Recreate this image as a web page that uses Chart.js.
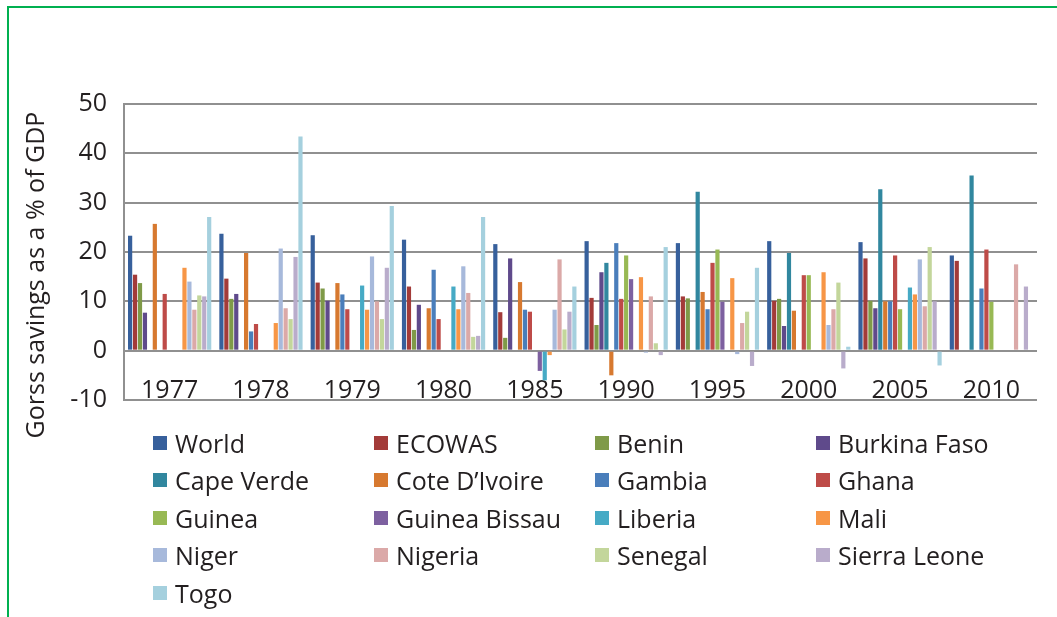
<!DOCTYPE html>
<html lang="en">

<head>
    <meta charset="UTF-8">
    <title>Gross savings as a % of GDP</title>
    <style>
        body {
            margin: 0;
            background: #fff;
            overflow: hidden;
            font-family: "Open Sans", sans-serif;
        }

        #frame {
            position: absolute;
            left: 7px;
            top: 6px;
            width: 1200px;
            height: 800px;
            border-left: 2.5px solid #00b050;
            border-top: 2.5px solid #00b050;
        }

        #wrap {
            position: absolute;
            left: 0;
            top: 0;
            width: 1057px;
            height: 617px;
        }

        #legend {
            position: absolute;
            left: 153px;
            top: 424px;
            display: grid;
            grid-template-columns: repeat(4, 221px);
            grid-auto-rows: 37.5px;
            font-size: 25px;
            color: #231f20;
        }

        #legend div {
            display: flex;
            align-items: center;
            white-space: nowrap;
        }

        #legend span {
            display: inline-block;
            width: 14px;
            height: 14px;
            margin-right: 8px;
        }
    </style>
</head>

<body>
    <div id="frame"></div>
    <div id="wrap">
        <canvas id="myChart"></canvas>
    </div>
    <div id="legend"></div>

    <script src="https://cdn.jsdelivr.net/npm/chart.js"></script>

    <script>
        // datos
        const years = ['1977', '1978', '1979', '1980', '1985', '1990', '1995', '2000', '2005', '2010']
        const countries = ['World', 'ECOWAS', 'Benin', 'Burkina Faso', 'Cape Verde', 'Cote D\u2019Ivoire', 'Gambia', 'Ghana',
            'Guinea', 'Guinea Bissau', 'Liberia', 'Mali', 'Niger', 'Nigeria', 'Senegal', 'Sierra Leone', 'Togo']

        const world = [23.3, 23.7, 23.4, 22.5, 21.6, 22.2, 21.8, 22.2, 22.0, 19.3]
        const ecowas = [15.4, 14.6, 13.8, 13.0, 7.8, 10.7, 11.0, 10.1, 18.7, 18.2]
        const benin = [13.7, 10.5, 12.6, 4.2, 2.6, 5.2, 10.6, 10.5, 10.1, null]
        const burkinaFaso = [7.7, 11.5, 10.1, 9.3, 18.7, 15.9, null, 5.0, 8.6, null]
        const capeVerde = [null, null, null, null, null, 17.8, 32.2, 19.8, 32.7, 35.5]
        const coteDIvoire = [25.7, 19.8, 13.7, 8.6, 13.9, -5.0, 11.9, 8.1, 10.0, null]
        const gambia = [null, 3.9, 11.4, 16.4, 8.3, 21.8, 8.4, null, 10.0, 12.6]
        const ghana = [11.5, 5.4, 8.4, 6.4, 7.9, 10.5, 17.8, 15.3, 19.3, 20.5]
        const guinea = [null, null, null, null, null, 19.3, 20.5, 15.3, 8.4, 9.9]
        const guineaBissau = [null, null, null, null, -4.1, 14.5, 9.9, null, null, null]
        const liberia = [null, null, 13.2, 13.0, -6.0, null, null, null, 12.8, null]
        const mali = [16.8, 5.6, 8.3, 8.4, -0.9, 14.9, 14.7, 15.9, 11.4, null]
        const niger = [14.0, 20.7, 19.1, 17.1, 8.3, -0.4, -0.7, 5.2, 18.5, null]
        const nigeria = [8.3, 8.6, 10.0, 11.7, 18.5, 11.0, 5.6, 8.4, 9.0, 17.5]
        const senegal = [11.2, 6.4, 6.4, 2.8, 4.3, 1.5, 7.9, 13.8, 21.0, null]
        const sierraLeone = [11.0, 19.0, 16.8, 3.0, 7.9, -0.9, -3.1, -3.6, 10.0, 13.0]
        const togo = [27.1, 43.4, 29.3, 27.1, 13.0, 21.0, 16.8, 0.8, -3.0, null]

        const yTicks = [-10, 0, 10, 20, 30, 40, 50]
        const yTitle = 'Gorss savings as a % of GDP'

        const series = [world, ecowas, benin, burkinaFaso, capeVerde, coteDIvoire, gambia, ghana,
            guinea, guineaBissau, liberia, mali, niger, nigeria, senegal, sierraLeone, togo]
        const colors = ['#37609c', '#a33b39', '#7f9a48', '#5f4a8b', '#31879f', '#d7792f', '#4a7ebb', '#be4b48',
            '#98b954', '#7d60a0', '#46aac5', '#f79646', '#a7b9db', '#dba9a8', '#c3d69b', '#b9accb', '#a5d0de']

        const textColor = '#231f20'
        const gridColor = '#909090'

        // titulo del eje y (dibujado a mano para colocarlo como en la imagen)
        const yTitlePlugin = {
            id: 'yTitlePlugin',
            afterDraw(chart) {
                const ctx = chart.ctx
                ctx.save()
                ctx.translate(37, 275)
                ctx.rotate(-Math.PI / 2)
                ctx.font = '25px "Open Sans"'
                ctx.fillStyle = textColor
                ctx.textAlign = 'center'
                ctx.textBaseline = 'middle'
                ctx.fillText(yTitle, 0, 0)
                ctx.restore()
            }
        }

        const ctx = document.getElementById('myChart')

        const chart = new Chart(ctx, {
            type: 'bar',
            data: {
                labels: years,
                datasets: countries.map((name, i) => ({
                    label: name,
                    data: series[i],
                    backgroundColor: colors[i],
                    borderWidth: 0,
                    barPercentage: 0.85,
                    categoryPercentage: 0.92
                }))
            },
            options: {
                responsive: true,
                maintainAspectRatio: false,
                animation: false,
                layout: {
                    padding: { left: 0, top: 104, right: 20, bottom: 217 }
                },
                plugins: {
                    legend: { display: false },
                    tooltip: { enabled: false }
                },
                scales: {
                    x: {
                        position: { y: 0 },
                        grid: { display: false },
                        border: { display: false },
                        ticks: {
                            color: textColor,
                            font: { family: 'Open Sans', size: 25 },
                            padding: 17,
                            maxRotation: 0
                        }
                    },
                    y: {
                        min: -10,
                        max: 50,
                        afterFit: (scale) => { scale.width = 124 },
                        afterBuildTicks: (scale) => {
                            scale.ticks = yTicks.map(v => ({ value: v }))
                        },
                        grid: {
                            color: gridColor,
                            lineWidth: 2,
                            drawTicks: false
                        },
                        border: { display: true, color: gridColor, width: 2 },
                        ticks: {
                            color: textColor,
                            font: { family: 'Open Sans', size: 25 },
                            padding: 17
                        }
                    }
                }
            },
            plugins: [yTitlePlugin]
        })

        // leyenda en 4 columnas
        const legend = document.getElementById('legend')
        chart.data.datasets.forEach(ds => {
            const item = document.createElement('div')
            const box = document.createElement('span')
            box.style.background = ds.backgroundColor
            item.appendChild(box)
            item.appendChild(document.createTextNode(ds.label))
            legend.appendChild(item)
        })
    </script>

</body>

</html>
